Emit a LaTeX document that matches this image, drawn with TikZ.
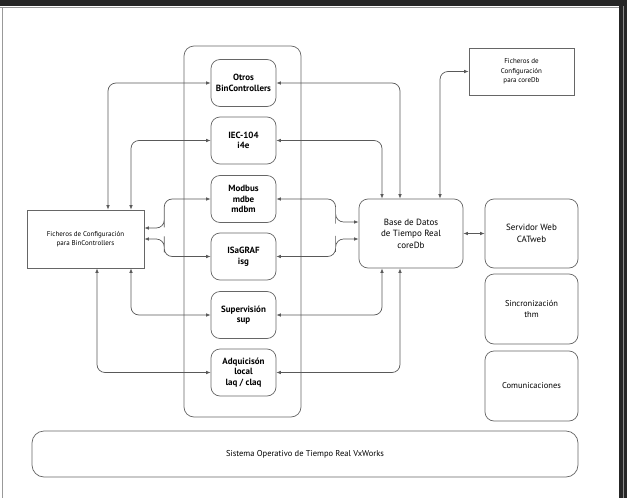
\documentclass[tikz,border=0pt]{standalone}
\usepackage{fontspec}
\setmainfont{PT Sans}
\usetikzlibrary{calc,arrows.meta}

\tikzset{
	modulo/.style={draw=black!60, line width=0.7pt, rounded corners=9pt, minimum width=65pt, minimum height=47pt, align=center, inner sep=1pt, font=\fontsize{9}{10.5}\selectfont\bfseries},
	caja/.style={draw=black!60, line width=0.7pt, align=center, inner sep=1pt, font=\fontsize{7}{9.5}\selectfont},
	redondo/.style={caja, rounded corners=9pt, font=\fontsize{9}{11.5}\selectfont},
	lnk/.style={{Latex[length=4.5pt,width=3.5pt]}-{Latex[length=4.5pt,width=3.5pt]}, draw=black!65, line width=0.7pt, rounded corners=8pt},
}

\begin{document}
\begin{tikzpicture}[x=1pt,y=-1pt]
		\useasboundingbox (0,0) rectangle (627,498);
		\fill[white] (0,0) rectangle (627,498);
		
		% marco de la captura
		\fill[black!85] (0,0) rectangle (627,6);
		\fill[black!85] (619,0) rectangle (627,498);
		\draw[black!40] (0,7) -- (619,7);
		\draw[black!40,line width=1.5pt] (2.5,7) -- (2.5,498);
		\draw[black!45,line width=1pt] (623,6) -- (623,498);
		
		% contenedor de BinControllers
		\draw[black!60, line width=0.7pt, rounded corners=10pt] (184,46) rectangle (301,417);
		
		\node[modulo] (otros) at (243.5,83) {Otros\\BinControllers};
		\node[modulo] (iec) at (243.5,140.5) {IEC-104\\i4e};
		\node[modulo] (modbus) at (243.5,199) {Modbus\\mdbe\\mdbm};
		\node[modulo] (isagraf) at (243.5,256.5) {ISaGRAF\\isg};
		\node[modulo] (superv) at (243.5,315) {Supervisión\\sup};
		\node[modulo] (adq) at (243.5,372.5) {Adquicisón\\local\\laq / claq};
		
		\node[caja, minimum width=117pt, minimum height=58pt] (ficb) at (85.5,239) {Ficheros de Configuración\\para BinControllers};
		\node[caja, minimum width=105pt, minimum height=47pt] (ficdb) at (521.5,71.5) {Ficheros de\\Configuración\\para coreDb};
		
		\node[redondo, minimum width=104pt, minimum height=69pt] (base) at (411,233.5) {Base de Datos\\de Tiempo Real\\coreDb};
		\node[redondo, minimum width=93pt, minimum height=69pt] (web) at (531.5,233.5) {Servidor Web\\CATweb};
		\node[redondo, minimum width=93pt, minimum height=70pt, font=\fontsize{8.5}{11.5}\selectfont] (sinc) at (531.5,309) {Sincronización\\thm};
		\node[redondo, minimum width=93pt, minimum height=70pt, font=\fontsize{8.5}{11.5}\selectfont] (com) at (531.5,386) {Comunicaciones};
		
		\node[redondo, rounded corners=12pt, minimum width=546pt, minimum height=46pt, font=\fontsize{8.5}{10}\selectfont] (so) at (305,454) {Sistema Operativo de Tiempo Real VxWorks};
		
		% ficheros de configuracion <-> modulos
		\coordinate (fm) at ([yshift=11pt]ficb.east);
		\draw[lnk] ([xshift=22.5pt]ficb.north) |- (otros.west);
		\draw[lnk] ([xshift=45.5pt]ficb.north) |- (iec.west);
		\draw[lnk] (fm) -| ($(fm)!.3!(modbus.west)$) |- (modbus.west);
		\draw[lnk] (ficb.east) -| ($(ficb.east)!.3!(isagraf.west)$) |- (isagraf.west);
		\draw[lnk] ([xshift=45.5pt]ficb.south) |- (superv.west);
		\draw[lnk] ([xshift=11.5pt]ficb.south) |- (adq.west);
		
		% modulos <-> coreDb
		\coordinate (bm) at ([yshift=11.5pt]base.west);
		\coordinate (bi) at ([yshift=-5.5pt]base.west);
		\draw[lnk] (otros.east) -| ([xshift=-11pt]base.north);
		\draw[lnk] (iec.east) -| ([xshift=-29pt]base.north);
		\draw[lnk] (modbus.east) -| ($(modbus.east)!.72!(bm)$) |- (bm);
		\draw[lnk] (isagraf.east) -| ($(isagraf.east)!.72!(bi)$) |- (bi);
		\draw[lnk] (superv.east) -| ([xshift=-29pt]base.south);
		\draw[lnk] (adq.east) -| ([xshift=-11pt]base.south);
		
		\draw[lnk] ([xshift=29pt]base.north) |- (ficdb.west);
		\draw[lnk] (base.east) -- (web.west);
\end{tikzpicture}
\end{document}
